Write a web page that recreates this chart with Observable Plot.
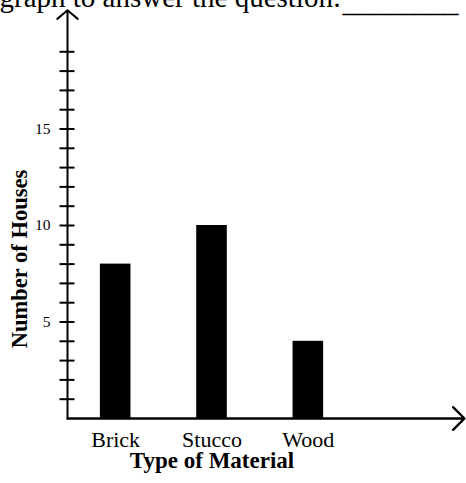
<!DOCTYPE html>
<html>
<head>
<meta charset="utf-8">
<script src="https://cdn.jsdelivr.net/npm/d3@7"></script>
<script src="https://cdn.jsdelivr.net/npm/@observablehq/plot@0.6"></script>
<style>
  html, body { margin: 0; padding: 0; background: #fff; }
</style>
</head>
<body>
<div id="chart"></div>
<script>
// ---- data ----
const categories = ["Brick", "Stucco", "Wood"];
const houses = [8, 10, 4];
const yTicks = [1,2,3,4,5,6,7,8,9,10,11,12,13,14,15,16,17,18,19];
const yTickLabels = [5, 10, 15];
const xTitle = "Type of Material";
const yTitle = "Number of Houses";
const questionText = "graph to answer the question:";
const blankText = "________";

// ---- table built from arrays ----
const rows = categories.map((c, i) => ({category: c, pos: i + 1, value: houses[i]}));

const unitPx = 395 / 4.1;          // pixels per category step
const halfBar = 15.3 / unitPx;     // half bar width in x units
const halfTick = 7.5 / unitPx;     // half tick length in x units
const axisX0 = 0.5;                // y axis sits half a step left of first category

const chart = Plot.plot({
  width: 466,
  height: 483,
  marginTop: 0, marginRight: 0, marginBottom: 0, marginLeft: 0,
  style: {fontFamily: "'Liberation Serif', 'Times New Roman', serif", background: "#fff", color: "#000"},
  x: {type: "linear", domain: [0.5, 4.6], range: [67, 462], axis: null},
  y: {type: "linear", domain: [0, 20], range: [418, 32], axis: null},
  marks: [
    // bars
    Plot.rectY(rows, {
      x1: d => d.pos - halfBar,
      x2: d => d.pos + halfBar,
      y1: 0,
      y2: "value",
      fill: "#000"
    }),
    // y axis ticks (crossing the axis)
    Plot.ruleY(yTicks, {y: d => d, x1: axisX0 - halfTick, x2: axisX0 + halfTick, stroke: "#000", strokeWidth: 2}),
    // y axis with arrow
    Plot.arrow([{x: axisX0}], {
      x1: "x", x2: "x", y1: 0, y2: 21.15,
      stroke: "#000", strokeWidth: 2, headLength: 10, headAngle: 100
    }),
    // x axis with arrow
    Plot.arrow([{y: 0}], {
      x1: axisX0, x2: 4.62, y1: "y", y2: "y",
      stroke: "#000", strokeWidth: 2.4, headLength: 10, headAngle: 90
    }),
    // y tick labels
    Plot.text(yTickLabels, {
      x: axisX0, y: d => d, dx: -17, text: d => String(d),
      textAnchor: "end", lineAnchor: "middle", fontSize: 15.5, fill: "#000"
    }),
    // category labels
    Plot.text(rows, {
      x: "pos", y: 0, dy: 28, text: "category",
      textAnchor: "middle", lineAnchor: "bottom", fontSize: 22, fill: "#000"
    }),
    // x title
    Plot.text([xTitle], {
      x: 2, y: 0, dy: 49, text: d => d,
      textAnchor: "middle", lineAnchor: "bottom", fontSize: 23, fontWeight: "bold", fill: "#000"
    }),
    // y title
    Plot.text([yTitle], {
      frameAnchor: "left", dx: 26, dy: 17, text: d => d, rotate: -90,
      textAnchor: "middle", lineAnchor: "bottom", fontSize: 22.5, fontWeight: "bold", fill: "#000"
    }),
    // cut-off question text at the top
    Plot.text([questionText], {
      frameAnchor: "top-left", dx: -1, dy: 6, text: d => d,
      textAnchor: "start", lineAnchor: "bottom", fontSize: 29, fill: "#000"
    }),
    Plot.text([blankText], {
      frameAnchor: "top-left", dx: 342, dy: 11.5, text: d => d,
      textAnchor: "start", lineAnchor: "bottom", fontSize: 29, fill: "#000"
    })
  ]
});

document.getElementById("chart").append(chart);
</script>
</body>
</html>
